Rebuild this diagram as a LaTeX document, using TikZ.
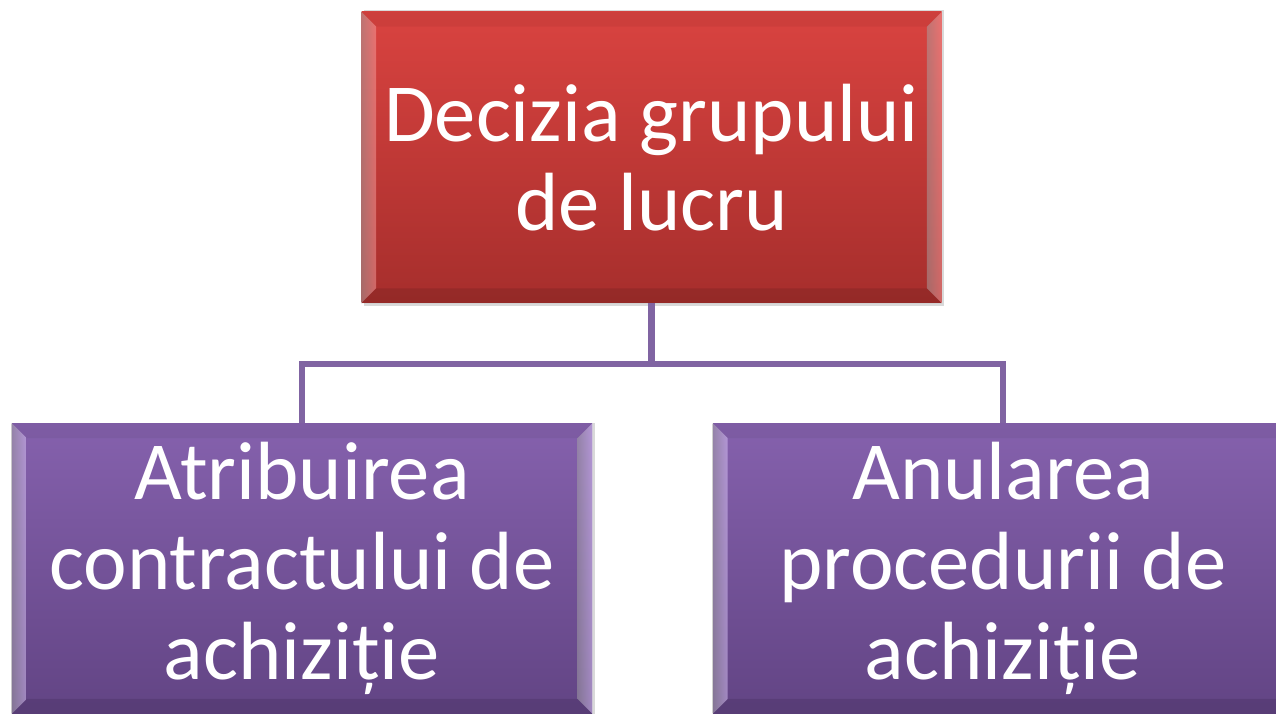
\documentclass[tikz,border=0pt]{standalone}
\usepackage{fontspec}
\setmainfont{Carlito}
\usetikzlibrary{calc}

\definecolor{redtop}{RGB}{217,67,64}
\definecolor{redbot}{RGB}{166,46,44}
\definecolor{redlight}{RGB}{255,160,160}
\definecolor{purtop}{RGB}{133,97,173}
\definecolor{purbot}{RGB}{98,68,132}
\definecolor{purlight}{RGB}{226,204,255}
\definecolor{linkcol}{RGB}{128,100,162}

% bevelled edge of a box: node, light colour
\newcommand{\bevel}[2]{
    \shade[left color=black!35, right color=#2, opacity=.5] (#1.south west) -- (#1.north west) -- ($(#1.north west)+(.3,-.3)$) -- ($(#1.south west)+(.3,.3)$) -- cycle;
    \shade[left color=black!35, right color=#2, opacity=.5] (#1.south east) -- (#1.north east) -- ($(#1.north east)+(-.3,-.3)$) -- ($(#1.south east)+(-.3,.3)$) -- cycle;
    \fill[black, opacity=.05] (#1.north west) -- (#1.north east) -- ($(#1.north east)+(-.3,-.3)$) -- ($(#1.north west)+(.3,-.3)$) -- cycle;
    \fill[black, opacity=.1] (#1.south west) -- (#1.south east) -- ($(#1.south east)+(-.3,.3)$) -- ($(#1.south west)+(.3,.3)$) -- cycle;
}

\begin{document}
\begin{tikzpicture}[box/.style = {rectangle, minimum width=11.6cm, minimum height=5.8cm, inner sep=0pt, align=center, text=white, font=\fontsize{47}{51}\selectfont},
    redbox/.style = {box, top color=redtop, bottom color=redbot},
    purbox/.style = {box, top color=purtop, bottom color=purbot},
    shadow/.style = {fill=black, opacity=.15},
    link/.style = {draw=linkcol, line width=3.6pt}]
    \clip (0,0) rectangle (25.52,14.26);
    % shadows
    \fill[shadow] (7.28,8.14) rectangle (18.88,14.06);
    \fill[shadow] (0.3,-0.1) rectangle (11.9,5.8);
    \fill[shadow] (14.32,-0.1) rectangle (25.92,5.8);
    % boxes
    \node[redbox, minimum height=5.82cm] (dec) at (13.03,11.11) {Decizia grupului\\de lucru};
    \node[purbox] (atr) at (6.04,2.89) {Atribuirea\\contractului de\\achiziție};
    \node[purbox] (anu) at (20.06,2.89) {Anularea\\procedurii de\\achiziție};
    \bevel{dec}{redlight}
    \bevel{atr}{purlight}
    \bevel{anu}{purlight}
    % connectors
    \coordinate (fork) at (13.03,6.98);
    \draw[link] (dec.south) -- (fork);
    \draw[link] (fork) -| (atr.north);
    \draw[link] (fork) -| (anu.north);
\end{tikzpicture}
\end{document}
